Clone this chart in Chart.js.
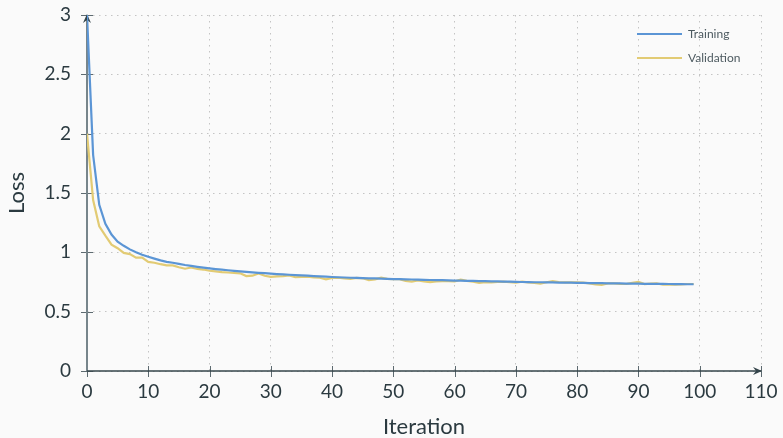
<!DOCTYPE html>
<html>
<head>
<meta charset="utf-8">
<script src="https://cdn.jsdelivr.net/npm/chart.js@4/dist/chart.umd.min.js"></script>
<style>
  html, body { margin:0; padding:0; background:#fafafa; }
  #wrap { width:783px; height:438px; position:relative; }
</style>
</head>
<body>
<div id="wrap"><canvas id="c" width="783" height="438"></canvas></div>
<script>
const iterations = Array.from({length: 100}, (_, i) => i);
const trainingLoss = [
  3.00, 1.82, 1.40, 1.24, 1.15, 1.09, 1.055, 1.025, 1.00, 0.98,
  0.963, 0.947, 0.932, 0.92, 0.912, 0.903, 0.893, 0.886, 0.878, 0.871,
  0.865, 0.859, 0.854, 0.849, 0.844, 0.839, 0.835, 0.831, 0.827, 0.824,
  0.82, 0.817, 0.814, 0.811, 0.808, 0.806, 0.803, 0.800, 0.797, 0.795,
  0.792, 0.790, 0.788, 0.786, 0.785, 0.783, 0.781, 0.780, 0.778, 0.776,
  0.775, 0.774, 0.772, 0.771, 0.770, 0.768, 0.767, 0.766, 0.765, 0.764,
  0.762, 0.761, 0.760, 0.759, 0.758, 0.757, 0.756, 0.755, 0.754, 0.753,
  0.751, 0.750, 0.749, 0.748, 0.748, 0.747, 0.746, 0.745, 0.744, 0.744,
  0.743, 0.742, 0.741, 0.741, 0.740, 0.739, 0.739, 0.738, 0.737, 0.737,
  0.736, 0.735, 0.735, 0.734, 0.734, 0.733, 0.732, 0.732, 0.731, 0.731
];
const validationLoss = [
  2.00, 1.44, 1.22, 1.14, 1.065, 1.035, 0.995, 0.985, 0.955, 0.955,
  0.92, 0.912, 0.90, 0.89, 0.89, 0.874, 0.862, 0.872, 0.86, 0.855,
  0.845, 0.840, 0.833, 0.830, 0.826, 0.823, 0.80, 0.803, 0.822, 0.803,
  0.793, 0.797, 0.800, 0.806, 0.790, 0.793, 0.795, 0.788, 0.786, 0.773,
  0.784, 0.786, 0.780, 0.776, 0.785, 0.781, 0.765, 0.772, 0.786, 0.776,
  0.775, 0.774, 0.760, 0.754, 0.764, 0.755, 0.749, 0.754, 0.758, 0.758,
  0.755, 0.770, 0.760, 0.753, 0.742, 0.748, 0.747, 0.750, 0.753, 0.748,
  0.744, 0.753, 0.747, 0.742, 0.736, 0.748, 0.758, 0.750, 0.747, 0.747,
  0.747, 0.744, 0.739, 0.730, 0.725, 0.738, 0.739, 0.734, 0.733, 0.742,
  0.750, 0.733, 0.737, 0.739, 0.727, 0.730, 0.727, 0.729, 0.733, 0.733
];
const seriesNames = ['Training', 'Validation'];
const seriesColors = ['#5b95d5', '#e2cb74'];
const xTitle = 'Iteration';
const yTitle = 'Loss';
const xMin = 0, xMax = 110, xStep = 10;
const yMin = 0, yMax = 3, yStep = 0.5;

const textColor = '#2b3a40';
const fontFamily = 'Lato, "Open Sans", sans-serif';

const axesPlugin = {
  id: 'axesPlugin',
  beforeDatasetsDraw(chart) {
    const {ctx, scales: {x, y}} = chart;
    const x0 = x.getPixelForValue(xMin), x1 = x.getPixelForValue(xMax);
    const y0 = y.getPixelForValue(yMin), y1 = y.getPixelForValue(yMax);
    ctx.save();
    ctx.strokeStyle = '#5d6a70';
    ctx.lineWidth = 1;
    for (let v = xMin; v <= xMax + 1e-9; v += xStep) {
      const px = Math.round(x.getPixelForValue(v)) + 0.5;
      ctx.beginPath(); ctx.moveTo(px, y0 - 5); ctx.lineTo(px, y0 + 6); ctx.stroke();
    }
    for (let v = yMin; v <= yMax + 1e-9; v += yStep) {
      const py = Math.round(y.getPixelForValue(v)) + 0.5;
      ctx.beginPath(); ctx.moveTo(x0 - 6, py); ctx.lineTo(x0 + 6, py); ctx.stroke();
    }
    ctx.strokeStyle = '#77858b';
    ctx.lineWidth = 2;
    ctx.beginPath(); ctx.moveTo(x0, y0); ctx.lineTo(x0, y1); ctx.stroke();
    ctx.strokeStyle = '#34444a';
    ctx.lineWidth = 1.5;
    ctx.beginPath(); ctx.moveTo(x0, y0); ctx.lineTo(x1, y0); ctx.stroke();
    ctx.fillStyle = '#34444a';
    ctx.beginPath();
    ctx.moveTo(x1 + 1, y0); ctx.lineTo(x1 - 8, y0 - 4); ctx.lineTo(x1 - 5, y0); ctx.lineTo(x1 - 8, y0 + 4);
    ctx.closePath(); ctx.fill();
    ctx.beginPath();
    ctx.moveTo(x0, y1 - 1); ctx.lineTo(x0 - 4, y1 + 8); ctx.lineTo(x0, y1 + 5); ctx.lineTo(x0 + 4, y1 + 8);
    ctx.closePath(); ctx.fill();
    ctx.restore();
  },
  afterDraw(chart) {
    const {ctx} = chart;
    ctx.save();
    ctx.font = '12px ' + fontFamily;
    ctx.textBaseline = 'middle';
    ctx.textAlign = 'left';
    seriesNames.forEach((name, i) => {
      const yy = 34 + i * 24;
      ctx.strokeStyle = seriesColors[i];
      ctx.lineWidth = 2;
      ctx.beginPath(); ctx.moveTo(637, yy); ctx.lineTo(682, yy); ctx.stroke();
      ctx.fillStyle = '#4d5a60';
      ctx.fillText(name, 688, yy);
    });
    ctx.restore();
  }
};

const toPoints = arr => arr.map((v, i) => ({x: iterations[i], y: v}));

new Chart(document.getElementById('c'), {
  type: 'line',
  data: {
    datasets: [
      {label: seriesNames[0], data: toPoints(trainingLoss), borderColor: seriesColors[0], borderWidth: 2.2, pointRadius: 0, tension: 0, fill: false},
      {label: seriesNames[1], data: toPoints(validationLoss), borderColor: seriesColors[1], borderWidth: 2.2, pointRadius: 0, tension: 0, fill: false}
    ]
  },
  options: {
    responsive: false,
    animation: false,
    layout: {padding: {top: 15, right: 22, left: 0, bottom: 0}},
    plugins: {legend: {display: false}, tooltip: {enabled: false}},
    scales: {
      x: {
        type: 'linear', min: xMin, max: xMax,
        afterFit(scale) { scale.height = 67; scale.paddingLeft = 0; scale.paddingRight = 0; },
        ticks: {stepSize: xStep, color: textColor, font: {family: fontFamily, size: 19}, padding: 9, maxRotation: 0},
        grid: {color: '#c4c4c4', drawTicks: false, lineWidth: 1},
        border: {display: false, dash: [1.5, 4.5]},
        title: {display: true, text: xTitle, color: textColor, font: {family: fontFamily, size: 22, lineHeight: '22px'}, padding: {top: 0, bottom: 0}}
      },
      y: {
        type: 'linear', min: yMin, max: yMax,
        afterFit(scale) { scale.width = 87; scale.paddingTop = 0; scale.paddingBottom = 0; },
        ticks: {stepSize: yStep, color: textColor, font: {family: fontFamily, size: 19}, padding: 16, callback: v => String(v)},
        grid: {color: '#c4c4c4', drawTicks: false, lineWidth: 1},
        border: {display: false, dash: [1.5, 4.5]},
        title: {display: true, text: yTitle, color: textColor, font: {family: fontFamily, size: 22, lineHeight: '22px'}, padding: {top: 6, bottom: 0}}
      }
    }
  },
  plugins: [axesPlugin]
});
</script>
</body>
</html>
